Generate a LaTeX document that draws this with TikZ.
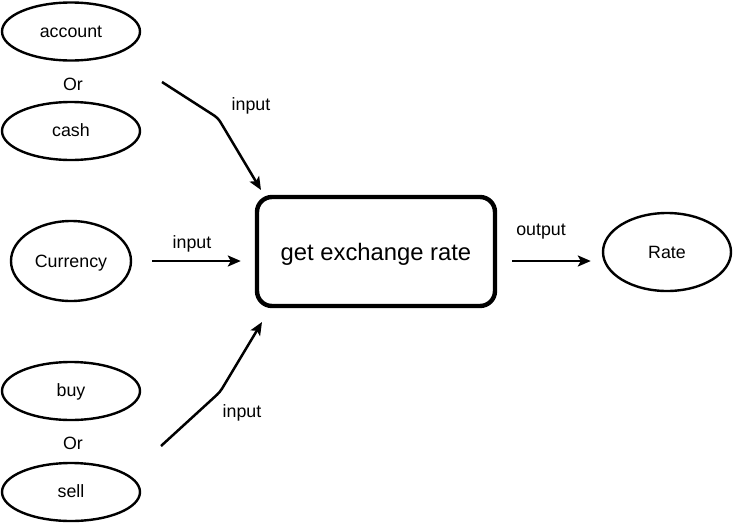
\documentclass[tikz,border=0pt]{standalone}
\usepackage{fontspec}
\setmainfont{Liberation Sans}
\usetikzlibrary{arrows.meta,shapes.geometric}
\newcommand{\dn}[2]{\raisebox{-#1}[0pt][0pt]{#2}}
\begin{document}
\begin{tikzpicture}[x=1pt,y=-1pt,
  ell/.style={draw,line width=2.4pt,ellipse,inner sep=0pt},
  lbl/.style={inner sep=0pt},
  conn/.style={line width=2.5pt,-{Stealth[length=13pt,width=11pt,inset=3pt]}},
  every node/.append style={font=\fontsize{17.8}{20}\selectfont},
]
\useasboundingbox (0,0) rectangle (733,523);
\node[ell,minimum width=138pt,minimum height=58pt] (account) at (71,31.5) {\dn{5.5pt}{account}};
\node[lbl] (or1) at (73,84) {Or};
\node[ell,minimum width=138pt,minimum height=58pt] (cash) at (71,131) {\dn{5.5pt}{cash}};
\node[ell,minimum width=120pt,minimum height=80pt] (cur) at (71,261) {\dn{6pt}{Currency}};
\node[ell,minimum width=138pt,minimum height=58pt] (buy) at (71,391) {\dn{5.5pt}{buy}};
\node[lbl] (or2) at (73,443) {Or};
\node[ell,minimum width=138pt,minimum height=58pt] (sell) at (71,492) {\dn{5.5pt}{sell}};
\node[ell,minimum width=128pt,minimum height=78pt] (rate) at (667,252) {\dn{6pt}{Rate}};
\node[draw,line width=4.4pt,rounded corners=15pt,minimum width=238pt,minimum height=109pt,inner sep=0pt,font=\fontsize{23.8}{26}\selectfont] (box) at (376,251.5) {\dn{8.5pt}{get exchange rate}};

\coordinate (t1) at (162,82);
\coordinate (t2) at (218,118);
\coordinate (t3) at (261,190);
\coordinate (b1) at (161,446);
\coordinate (b2) at (220,392);
\coordinate (b3) at (262,322);

\draw[conn,rounded corners=4pt] (t1) -- (t2) -- (t3);
\draw[conn,rounded corners=4pt] (b1) -- (b2) -- (b3);
\draw[conn,shorten <=20pt,shorten >=14pt] (cur.east) -- (cur.east -| box.west);
\draw[conn,shorten <=15pt,shorten >=11pt] (box.east |- cur.east) -- (rate.west |- cur.east);

\node[lbl] (l1) at (251,106) {input};
\node[lbl] (l2) at (192,244) {input};
\node[lbl] (l3) at (242,413) {input};
\node[lbl] (l4) at (541,232) {output};
\end{tikzpicture}
\end{document}
